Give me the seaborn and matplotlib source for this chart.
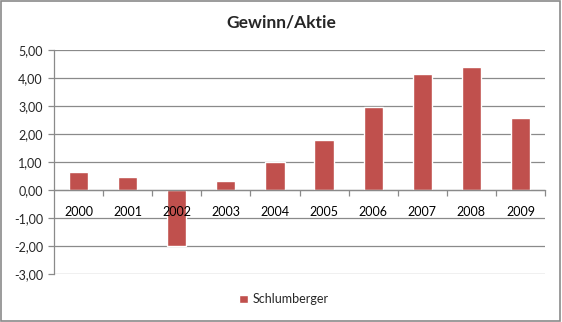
import matplotlib
matplotlib.use("Agg")
import matplotlib.pyplot as plt
import seaborn as sns
import pandas as pd
from matplotlib.patches import Rectangle
from matplotlib.ticker import FixedLocator, FuncFormatter

years = ["2000", "2001", "2002", "2003", "2004", "2005", "2006", "2007", "2008", "2009"]
values = [0.62, 0.45, -2.00, 0.31, 0.99, 1.78, 2.97, 4.15, 4.40, 2.58]
series = "Schlumberger"
title = "Gewinn/Aktie"
y_ticks = [-3, -2, -1, 0, 1, 2, 3, 4, 5]

sns.set_theme(style="white")
plt.rcParams["font.family"] = ["Lato", "DejaVu Sans"]

df = pd.DataFrame({"Jahr": years, "Wert": values, "Serie": [series] * len(years)})

fig = plt.figure(figsize=(5.62, 3.22), dpi=100)
ax = fig.add_axes([0.0961, 0.149, 0.8737, 0.696])

sns.barplot(data=df, x="Jahr", y="Wert", hue="Serie", palette=["#C0504D"],
            width=0.39, saturation=1, ax=ax, legend=True)

ax.set_ylim(-3.01, 5)
ax.set_xlim(-0.5, len(years) - 0.5)
ax.set_yticks(y_ticks)
ax.yaxis.set_major_formatter(FuncFormatter(lambda v, p: f"{v:.2f}".replace(".", ",")))
ax.grid(axis="y", color="#8a8a8a", linewidth=0.9)
ax.set_axisbelow(True)
ax.xaxis.set_zorder(5)
ax.set_xlabel("")
ax.set_ylabel("")

for s in ["top", "right"]:
    ax.spines[s].set_visible(False)
ax.spines["left"].set_color("#8a8a8a")
ax.spines["left"].set_linewidth(0.9)
ax.spines["bottom"].set_position(("data", 0))
ax.spines["bottom"].set_color("#8a8a8a")
ax.spines["bottom"].set_linewidth(0.9)

ax.tick_params(axis="x", which="major", length=0, pad=12, labelsize=9, colors="black")
ax.xaxis.set_minor_locator(FixedLocator([i - 0.5 for i in range(1, len(years) + 1)]))
ax.tick_params(axis="x", which="minor", length=4, width=0.9, color="#8a8a8a", direction="out", bottom=True)
ax.tick_params(axis="y", length=4, width=0.9, color="#8a8a8a", direction="out", left=True, labelsize=9, pad=4)

fig.suptitle(title, x=0.5, y=0.955, fontsize=12.5, fontweight="bold")

sns.move_legend(ax, "center", bbox_to_anchor=(0.505, 0.07), bbox_transform=fig.transFigure,
                title=None, frameon=False, fontsize=9, handlelength=0.7, handleheight=0.7,
                handletextpad=0.4)

fig.patches.append(Rectangle((0.002, 0.003), 0.995, 0.993, transform=fig.transFigure,
                             fill=False, edgecolor="#8a8a8a", linewidth=1.2))

fig.savefig("out.png", dpi=100)
